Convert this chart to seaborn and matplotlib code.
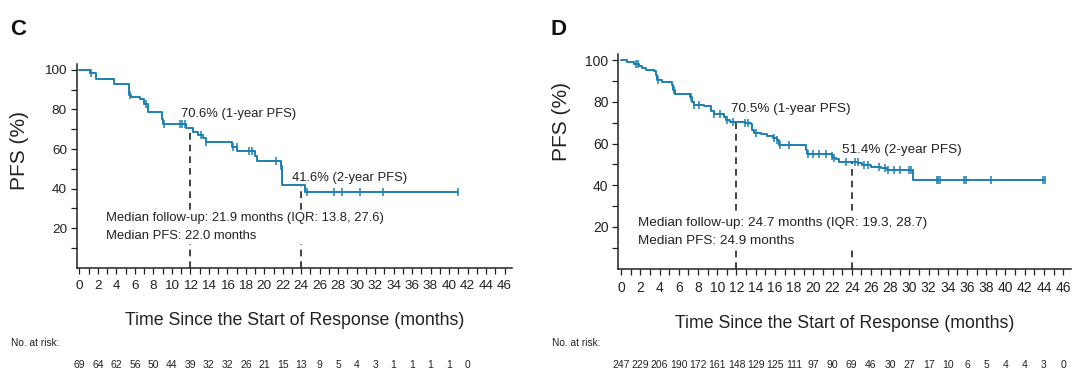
import numpy as np
import pandas as pd
import matplotlib
matplotlib.use('Agg')
import matplotlib.pyplot as plt
import matplotlib.transforms as mtransforms
from matplotlib import font_manager
import seaborn as sns

# Panel C - Kaplan-Meier steps
c_time = [0, 1.1, 1.8, 3.7, 5.4, 5.6, 6.5, 7.0, 7.4, 8.9, 9.0, 11.5, 12.3, 12.8,
          13.4, 13.7, 16.5, 17.1, 19.0, 19.2, 21.8, 21.95, 24.4]
c_surv = [100, 98.3, 95.6, 92.7, 87.4, 86.5, 85.2, 82.5, 78.7, 75.2, 72.6, 70.6, 68.6, 67.3,
          65.6, 63.3, 61.2, 59.0, 56.5, 53.9, 51.4, 41.6, 38.5]
c_censor = [1.2, 5.5, 7.2, 9.1, 10.85, 11.05, 11.4, 13.2, 13.7, 16.6, 17.0, 18.3, 18.7,
            21.3, 21.8, 24.6, 27.6, 28.4, 30.4, 32.9, 41.0]
c_risk = [69, 64, 62, 56, 50, 44, 39, 32, 32, 26, 21, 15, 13, 9, 5, 4, 3, 1, 1, 1, 1, 0]
c_notes = ['70.6% (1-year PFS)', '41.6% (2-year PFS)',
           'Median follow-up: 21.9 months (IQR: 13.8, 27.6)\nMedian PFS: 22.0 months']

# Panel D
d_time = [0, 0.6, 1.35, 1.9, 2.2, 2.6, 3.45, 3.65, 3.7, 4.2,
          5.25, 5.4, 5.6, 7.2, 7.35, 7.55, 8.6, 9.3, 9.65, 10.7,
          10.9, 11.35, 12.85, 13.5, 13.65, 13.85, 14.6, 15.15, 15.75, 16.2,
          16.4, 19.2, 19.3, 21.9, 22.05, 22.4, 22.7, 24.7, 25.05, 25.95,
          27.0, 27.65, 30.35]
d_surv = [100, 99.2, 98.3, 97.2, 96.3, 95.5, 94.7, 93.0, 90.5, 89.7,
          88.0, 85.6, 83.9, 82.2, 79.8, 78.6, 77.8, 75.6, 74.4, 72.8,
          71.5, 70.5, 70.1, 69.3, 66.5, 65.2, 64.5, 63.5, 62.7, 61.5,
          59.5, 56.8, 55.2, 54.0, 53.2, 52.4, 51.4, 50.7, 49.5, 49.0,
          48.2, 47.4, 42.4]
d_censor = [1.5, 1.7, 3.8, 5.5, 7.25, 7.6, 8.1, 9.7, 10.3, 11.0, 11.6, 12.9, 13.2, 14.0,
            15.9, 16.2, 16.5, 17.5, 19.4, 20.0, 20.6, 21.3, 21.9, 22.1, 23.4, 24.3, 24.6,
            25.3, 25.7, 26.8, 27.5, 27.8, 28.4, 29.0, 30.0, 30.2, 32.85, 33.0, 33.2,
            35.7, 35.9, 38.45, 43.9, 44.1]
d_risk = [247, 229, 206, 190, 172, 161, 148, 129, 125, 111, 97, 90, 69, 46, 30, 27,
          17, 10, 6, 5, 4, 4, 3, 0]
d_notes = ['70.5% (1-year PFS)', '51.4% (2-year PFS)',
           'Median follow-up: 24.7 months (IQR: 19.3, 28.7)\nMedian PFS: 24.9 months']

landmarks = [12, 24]
x_label = 'Time Since the Start of Response (months)'

sns.set_style('ticks')
plt.rcParams['font.family'] = ['Liberation Sans', 'DejaVu Sans']


def has_font(name):
    try:
        font_manager.findfont(name, fallback_to_default=False)
        return True
    except Exception:
        return False


narrow = 'Liberation Sans Narrow' if has_font('Liberation Sans Narrow') else 'Liberation Sans'
color = '#1d80b2'
ink = '#222222'

fig = plt.figure(figsize=(10.8, 3.8), dpi=100)


def km_panel(rect, time, surv, censor, risk, notes, letter, letter_x, note_pos,
             ylab_pos, fs):
    ax = fig.add_axes(rect)
    end = max(censor)
    steps = pd.DataFrame({'t': time + [end], 's': surv + [surv[-1]]})
    sns.lineplot(data=steps, x='t', y='s', drawstyle='steps-post', color=color,
                 lw=1.4, estimator=None, sort=False, ax=ax)
    idx = np.searchsorted(time, censor, side='right') - 1
    cens = pd.DataFrame({'t': censor, 's': np.array(surv)[idx]})
    sns.scatterplot(data=cens, x='t', y='s', marker='|', s=30, color=color,
                    linewidth=1.1, ax=ax, zorder=3)

    # landmark dashed lines
    for lm in landmarks:
        i = np.searchsorted(time, lm, side='right') - 1
        ax.plot([lm, lm], [0, surv[i]], ls=(0, (4, 3)), color=ink, lw=1.2, zorder=1)

    (x1, y1), (x2, y2), (x3, y3) = note_pos
    ax.text(x1, y1, notes[0], fontsize=fs, va='center', ha='left', color=ink)
    ax.text(x2, y2, notes[1], fontsize=fs, va='center', ha='left', color=ink)
    ax.text(x3, y3, notes[2], fontsize=fs, va='center', ha='left', color=ink,
            linespacing=1.65,
            bbox=dict(facecolor='white', edgecolor='none', pad=1.5))

    ax.set_xlim(-0.3, 46.8)
    ax.set_ylim(0, 103)
    ax.set_xticks(np.arange(0, 47, 2))
    ax.set_xticks(np.arange(1, 47, 2), minor=True)
    ax.set_yticks([20, 40, 60, 80, 100])
    ax.set_yticks([10, 30, 50, 70, 90], minor=True)
    ax.tick_params(which='both', direction='out', length=4, width=0.9,
                   labelsize=fs + 0.3, colors=ink, pad=3)
    ax.tick_params(axis='x', pad=5)
    for sp in ['left', 'bottom']:
        ax.spines[sp].set_linewidth(1.1)
        ax.spines[sp].set_color(ink)
    sns.despine(ax=ax)
    ax.set_xlabel(x_label, fontsize=12.8, family=narrow, color=ink, labelpad=14)
    ax.set_ylabel('')
    fig.text(ylab_pos[0], ylab_pos[1], 'PFS (%)', rotation=90, fontsize=15,
             va='center', ha='center', color=ink)

    # number at risk row, aligned with the x axis
    trans = mtransforms.blended_transform_factory(ax.transData, fig.transFigure)
    for k, n in enumerate(risk):
        ax.text(2 * k, 0.04, str(n), transform=trans, fontsize=7.5, ha='center',
                va='center', family=narrow, color=ink, clip_on=False)
    fig.text(letter_x + 0.001, 0.097, 'No. at risk:', fontsize=7.3, va='center',
             family=narrow, color=ink)
    fig.text(letter_x, 0.922, letter, fontsize=16, fontweight='bold', va='center',
             color='#111111')
    return ax


km_panel([0.071, 0.295, 0.403, 0.537], c_time, c_surv, c_censor, c_risk, c_notes,
         'C', 0.009, [(11.0, 77.5), (23.0, 45.2), (2.9, 20.5)], (0.018, 0.605), 9.4)
km_panel([0.5725, 0.293, 0.419, 0.565], d_time, d_surv, d_censor, d_risk, d_notes,
         'D', 0.51, [(11.4, 76.8), (23.0, 56.8), (1.7, 17.5)], (0.52, 0.68), 9.7)

fig.savefig('out.png', dpi=100)
